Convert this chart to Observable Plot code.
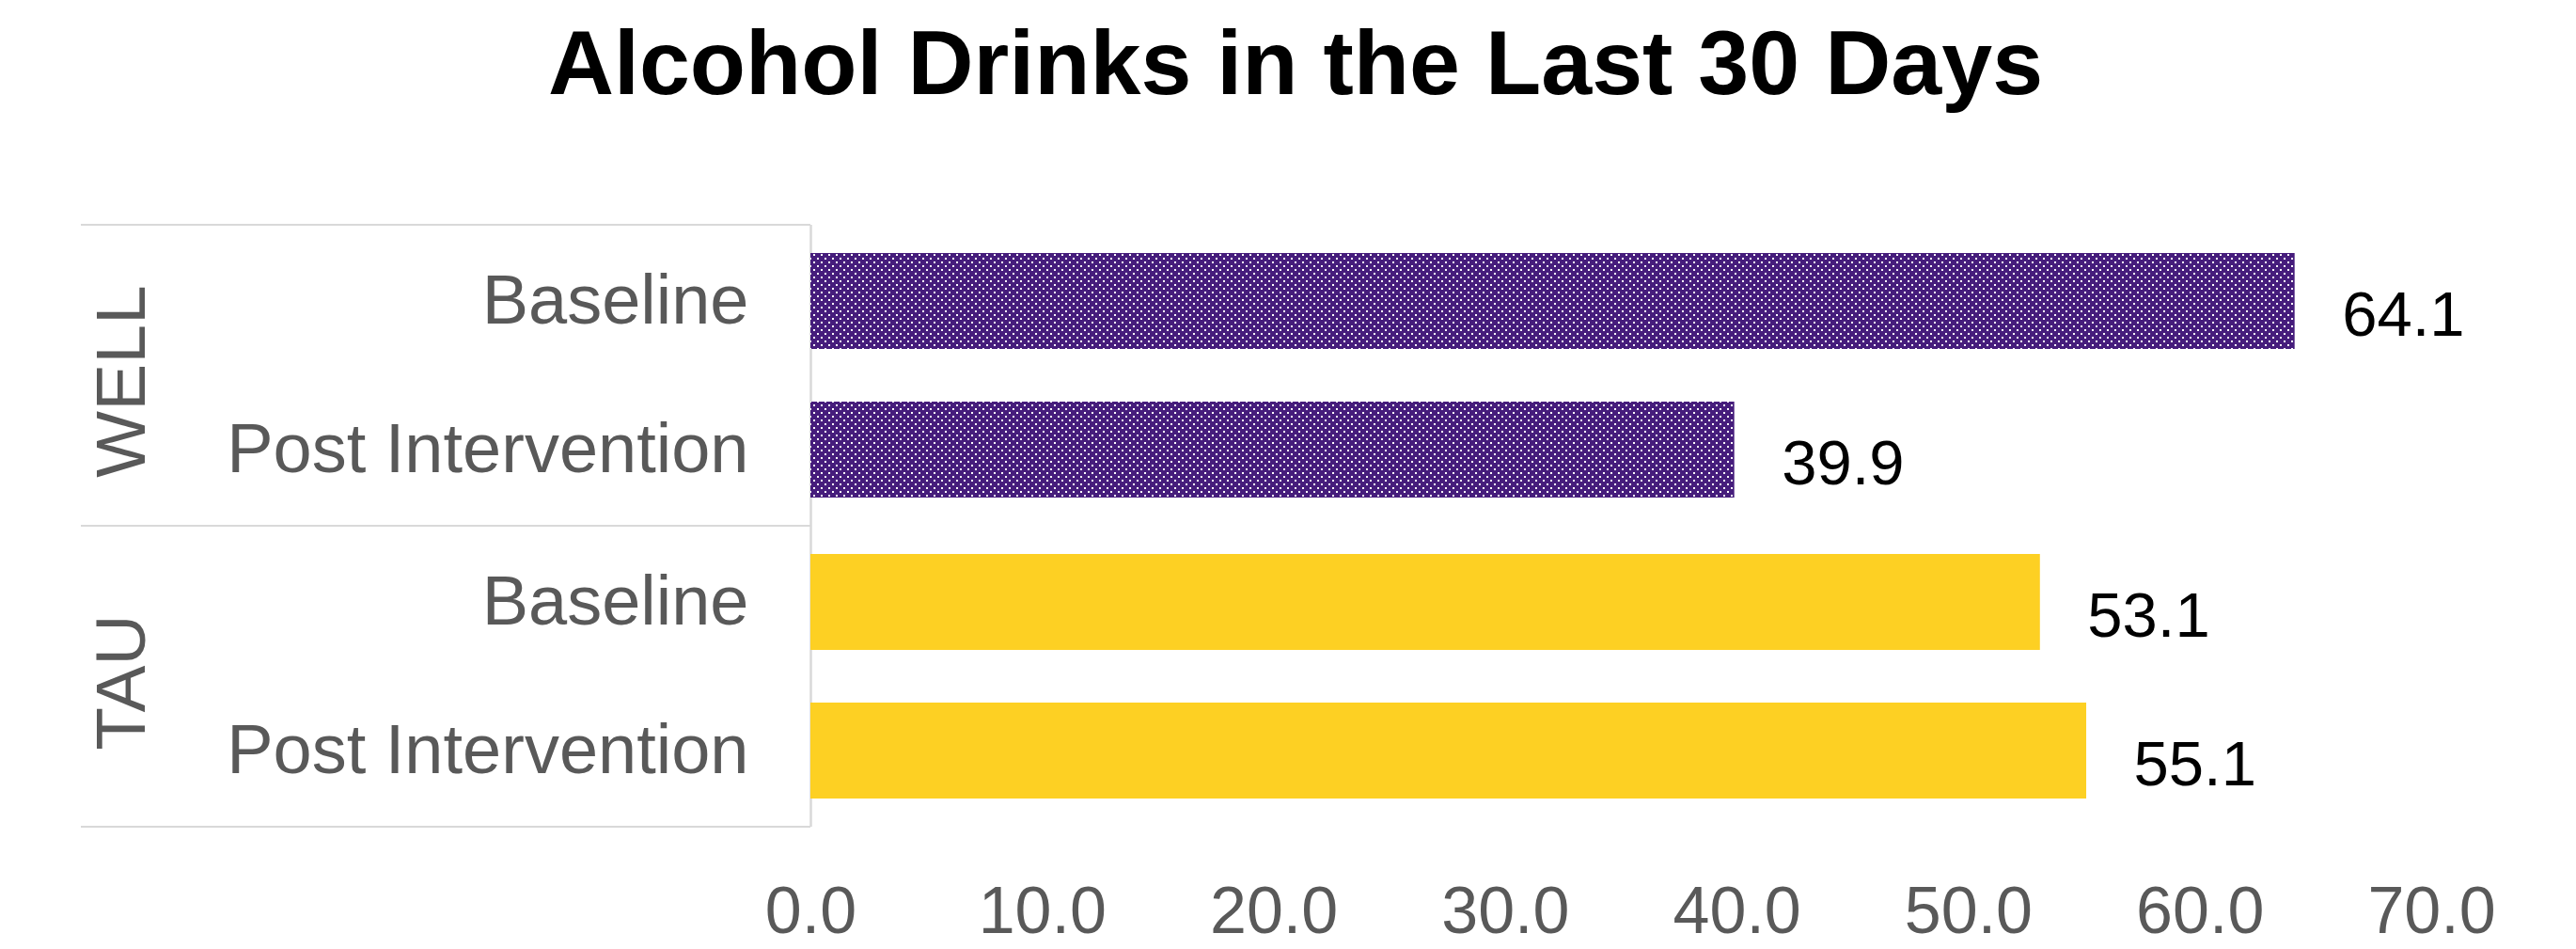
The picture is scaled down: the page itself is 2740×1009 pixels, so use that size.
<!DOCTYPE html>
<html><head><meta charset="utf-8">
<script src="https://cdn.jsdelivr.net/npm/d3@7"></script>
<script src="https://cdn.jsdelivr.net/npm/@observablehq/plot@0.6"></script>
<style>
html,body{margin:0;padding:0;background:#fff;}
#title{box-sizing:border-box;height:180px;padding-top:18px;padding-left:16px;text-align:center;font-family:"Liberation Sans",Arial,sans-serif;font-weight:bold;font-size:97px;line-height:97px;color:#000;white-space:nowrap;}
#chart svg{display:block;}
</style></head>
<body>
<div id="title">Alcohol Drinks in the Last 30 Days</div>
<div id="chart"></div>
<script>
const groups = ["WELL", "TAU"];
const timepoints = ["Baseline", "Post Intervention"];
const wellValues = [64.1, 39.9];
const tauValues = [53.1, 55.1];
const xTicks = [0, 10, 20, 30, 40, 50, 60, 70];
const groupColors = ["url(#well-dots)", "#FDD023"];

const rows = [];
groups.forEach((g, gi) => {
  const vals = gi === 0 ? wellValues : tauValues;
  timepoints.forEach((t, ti) => rows.push({group: g, time: t, value: vals[ti]}));
});

const FONT = '"Liberation Sans", Arial, sans-serif';
const GREY = "#595959";
const LINE = "#D9D9D9";

const plot = Plot.plot({
  width: 2740, height: 829,
  marginLeft: 862, marginRight: 154, marginTop: 58, marginBottom: 130,
  style: {fontFamily: FONT, background: "transparent", color: GREY},
  x: {domain: [0, 70], label: null},
  y: {domain: timepoints, paddingInner: 0.352, paddingOuter: 0.184, label: null},
  fy: {domain: groups, padding: 0, axis: null, label: null},
  color: {domain: groups, range: groupColors},
  marks: [
    Plot.ruleX([0], {stroke: LINE, strokeWidth: 2.5}),
    Plot.barX(rows, {x: "value", y: "time", fy: "group", fill: "group"}),
    Plot.text(rows, {x: "value", y: "time", fy: "group", text: d => d.value.toFixed(1),
      textAnchor: "start", dx: 50, dy: 15, fontSize: 67, fill: "#000"}),
    Plot.text(groups, {fy: d => d, text: d => d, frameAnchor: "left", textAnchor: "middle",
      lineAnchor: "middle", rotate: -90, dx: -733, dy: 6, fontSize: 75, fill: GREY}),
    Plot.axisY({tickSize: 0, tickPadding: 66, fontSize: 74, label: null}),
    Plot.axisX({ticks: xTicks, tickFormat: d => d.toFixed(1), tickSize: 0, tickPadding: 63,
      fontSize: 70, label: null, facetAnchor: "bottom"})
  ]
});

const svg = d3.select(plot);
const defs = svg.insert("defs", ":first-child");
const pat = defs.append("pattern").attr("id", "well-dots").attr("patternUnits", "userSpaceOnUse")
  .attr("width", 8).attr("height", 8);
pat.append("rect").attr("width", 8).attr("height", 8).attr("fill", "#461D7C");
pat.append("rect").attr("x", 1).attr("y", 1).attr("width", 2).attr("height", 2).attr("fill", "#fff");
pat.append("rect").attr("x", 5).attr("y", 5).attr("width", 2).attr("height", 2).attr("fill", "#fff");

const fy = plot.scale("fy"), xs = plot.scale("x");
const x0 = xs.apply(0);
const panelLeft = 86;
const edges = groups.map(g => fy.apply(g)).concat([fy.apply(groups[groups.length - 1]) + fy.bandwidth]);
svg.append("g").selectAll("line").data(edges).join("line")
  .attr("x1", panelLeft).attr("x2", x0).attr("y1", d => d).attr("y2", d => d)
  .attr("stroke", LINE).attr("stroke-width", 2);

document.getElementById("chart").appendChild(plot);
</script>
</body></html>
